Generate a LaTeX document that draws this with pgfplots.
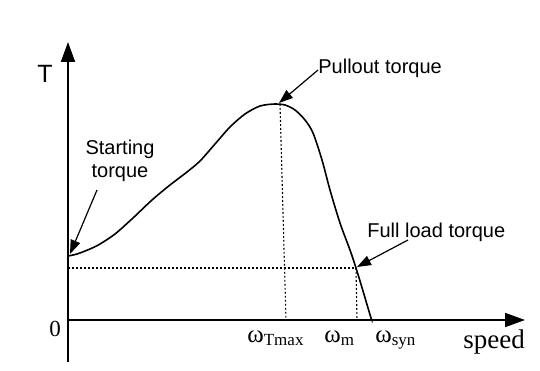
\documentclass[border=0pt]{standalone}
\usepackage{fontspec}
\setmainfont{Liberation Sans}
\newfontfamily\tnr{Liberation Serif}
\usepackage{pgfplots}
\pgfplotsset{compat=1.18}
\usetikzlibrary{arrows.meta}
\begin{document}
\begin{tikzpicture}
\begin{axis}[
  width=270pt, height=185pt, scale only axis,
  xmin=-68, xmax=472, ymin=-50, ymax=320,
  axis lines=none, ticks=none, clip=false,
]
\path (axis cs:-68,-50) rectangle (axis cs:472,320);
% axes
\draw[line width=0.9pt, -{Triangle[length=10pt,width=7pt]}] (axis cs:0,-42) -- (axis cs:0,278);
\draw[line width=0.9pt, -{Triangle[length=10pt,width=7pt]}] (axis cs:0,0) -- (axis cs:457,0);
% dotted guides
\draw[line width=0.55pt, dash pattern=on 0.9pt off 1.1pt] (axis cs:0,52) -- (axis cs:288,52);
\draw[line width=0.55pt, dash pattern=on 0.9pt off 1.1pt] (axis cs:212,216) -- (axis cs:218,0);
\draw[line width=0.55pt, dash pattern=on 0.9pt off 1.1pt] (axis cs:288,52) -- (axis cs:289,0);
% torque-speed curve
\addplot[line width=0.8pt, smooth, tension=0.5] coordinates {
 (0,64) (9,66) (22,71) (32,76) (47,86) (65,102) (84,120) (102,135)
 (119,148) (132,159) (147,176) (162,193) (177,206) (192,214) (207,216)
 (217,215) (227,210) (237,200) (245,187) (254,160) (262,130) (272,97)
 (282,70) (288,52) (295,29) (303,2) (304,0)
};
% annotation arrows
\draw[line width=0.6pt, -{Triangle[length=7pt,width=5pt]}] (axis cs:250,250) -- (axis cs:211,217);
\draw[line width=0.6pt, -{Triangle[length=7pt,width=5pt]}] (axis cs:340,80) -- (axis cs:289,53);
\draw[line width=0.6pt, -{Triangle[length=7pt,width=5pt]}] (axis cs:29,130) -- (axis cs:2,66);
% texts
\node[anchor=base west, inner sep=0, font=\fontsize{10}{12}\selectfont] at (axis cs:250,246) {Pullout torque};
\node[anchor=base, inner sep=0, font=\fontsize{10}{12}\selectfont] at (axis cs:52,165) {Starting};
\node[anchor=base, inner sep=0, font=\fontsize{10}{12}\selectfont] at (axis cs:52,143) {torque};
\node[anchor=base west, inner sep=0, font=\fontsize{10}{12}\selectfont] at (axis cs:299,83) {Full load torque};
\node[anchor=base west, inner sep=0, font=\fontsize{12.5}{15}\selectfont] at (axis cs:-31,237) {T};
\node[anchor=center, inner sep=0, font=\tnr\fontsize{11.5}{13}\selectfont] at (axis cs:-13,-9) {0};
\node[anchor=base west, inner sep=0, font=\tnr\fontsize{12.5}{14}\selectfont] at (axis cs:179,-22) {ω\raisebox{-1.5pt}{\fontsize{8.5}{10}\selectfont Tmax}};
\node[anchor=base west, inner sep=0, font=\tnr\fontsize{12.5}{14}\selectfont] at (axis cs:256,-22) {ω\raisebox{-1.5pt}{\fontsize{8.5}{10}\selectfont m}};
\node[anchor=base west, inner sep=0, font=\tnr\fontsize{12.5}{14}\selectfont] at (axis cs:307,-22) {ω\raisebox{-1.5pt}{\fontsize{8.5}{10}\selectfont syn}};
\node[anchor=base west, inner sep=0, font=\tnr\fontsize{13.5}{16}\selectfont] at (axis cs:395,-28) {speed};
\end{axis}
\end{tikzpicture}
\end{document}
